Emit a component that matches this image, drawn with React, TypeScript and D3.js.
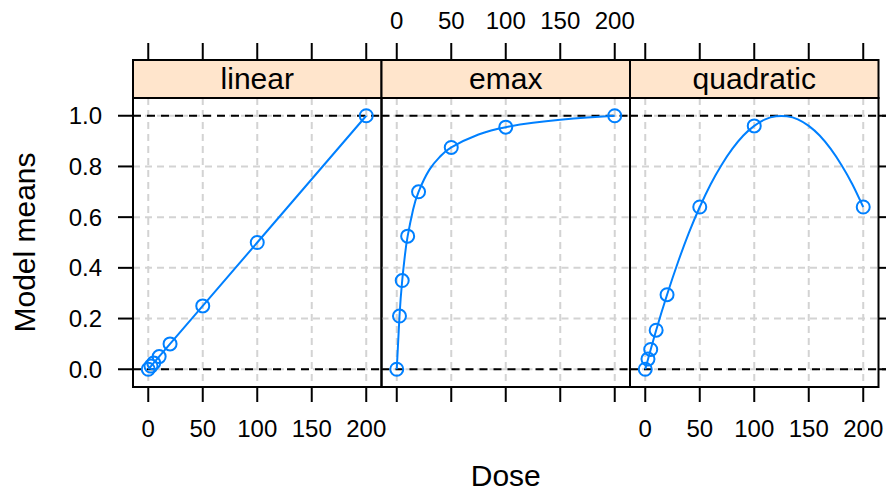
import * as d3 from 'd3'

// doses used for the points
const doses = [0, 2.5, 5, 10, 20, 50, 100, 200]

// model means at the doses
const linearMeans = [0, 0.0125, 0.025, 0.05, 0.1, 0.25, 0.5, 1.0]
const emaxMeans = [0, 0.21, 0.35, 0.525, 0.7, 0.875, 0.955, 1.0]
const quadMeans = [0, 0.04, 0.078, 0.154, 0.294, 0.64, 0.96, 0.64]

// fitted curves
const emaxCurveDose = [0, 2.5, 5, 7.5, 10, 15, 20, 30, 40, 50, 75, 100, 125, 150, 175, 200]
const emaxCurve = [0, 0.21, 0.35, 0.45, 0.525, 0.63, 0.7, 0.7875, 0.84, 0.875, 0.926, 0.955, 0.972, 0.984, 0.993, 1.0]
const quadCurveDose = [0, 10, 20, 30, 40, 50, 60, 70, 80, 90, 100, 110, 120, 130, 140, 150, 160, 170, 180, 190, 200]
const quadCurve = [0, 0.154, 0.294, 0.422, 0.538, 0.64, 0.73, 0.806, 0.87, 0.922, 0.96, 0.986, 0.998, 0.998, 0.986, 0.96, 0.922, 0.87, 0.806, 0.73, 0.64]

const panelNames = ['linear', 'emax', 'quadratic']
const xTicks = [0, 50, 100, 150, 200]
const yTicks = [0, 0.2, 0.4, 0.6, 0.8, 1.0]

const panels = [
  { name: panelNames[0], means: linearMeans, cx: doses, cy: linearMeans },
  { name: panelNames[1], means: emaxMeans, cx: emaxCurveDose, cy: emaxCurve },
  { name: panelNames[2], means: quadMeans, cx: quadCurveDose, cy: quadCurve },
]

const W = 886
const H = 493
const left = 133
const panelW = 248.5
const top = 98
const bottom = 387
const stripTop = 60
const tick = 15
const font = '"Liberation Sans", Arial, Helvetica, sans-serif'
const blue = '#0080ff'

export default function App() {
  const y = d3.scaleLinear().domain([-0.07, 1.07]).range([bottom, top])

  return (
    <svg width={W} height={H} style={{ position: 'absolute', left: 0, top: 0 }} fontFamily={font}>
      <rect width={W} height={H} fill="white" />
      {panels.map((p, i) => {
        const x0 = left + i * panelW
        const x = d3.scaleLinear().domain([-14, 214]).range([x0, x0 + panelW])
        const line = d3
          .line<number>()
          .x((_, k) => x(p.cx[k]))
          .y(d => y(d))
          .curve(d3.curveNatural)
        const lastPanel = i === panels.length - 1
        return (
          <g key={p.name}>
            <defs>
              <clipPath id={`clip${i}`}>
                <rect x={x0} y={top} width={panelW} height={bottom - top} />
              </clipPath>
            </defs>
            {/* grid */}
            {xTicks.map(t => (
              <line key={'gx' + t} x1={x(t)} x2={x(t)} y1={top} y2={bottom} stroke="#d3d3d3" strokeWidth={2} strokeDasharray="7,5" />
            ))}
            {yTicks.map(t => (
              <line key={'gy' + t} x1={x0} x2={x0 + panelW} y1={y(t)} y2={y(t)} stroke="#d3d3d3" strokeWidth={2} strokeDasharray="7,5" />
            ))}
            {/* reference lines at 0 and 1 */}
            {[0, 1].map(t => (
              <line key={'r' + t} x1={x0} x2={lastPanel ? W : x0 + panelW} y1={y(t)} y2={y(t)} stroke="black" strokeWidth={2} strokeDasharray="8,6" />
            ))}
            <g clipPath={`url(#clip${i})`}>
              <path d={line(p.cy) || ''} fill="none" stroke={blue} strokeWidth={2} />
              {p.means.map((m, k) => (
                <circle key={k} cx={x(doses[k])} cy={y(m)} r={6.5} fill="none" stroke={blue} strokeWidth={2} />
              ))}
            </g>
            {/* panel border */}
            <rect x={x0} y={top} width={panelW} height={bottom - top} fill="none" stroke="black" strokeWidth={2} />
            {/* strip */}
            <rect x={x0} y={stripTop} width={panelW} height={top - stripTop} fill="#ffe5cc" stroke="black" strokeWidth={2} />
            <text x={x0 + panelW / 2} y={top - 9} textAnchor="middle" fontSize={30}>
              {p.name}
            </text>
            {/* x ticks top and bottom */}
            {xTicks.map(t => (
              <g key={'t' + t}>
                <line x1={x(t)} x2={x(t)} y1={bottom} y2={bottom + tick} stroke="black" strokeWidth={2} />
                <line x1={x(t)} x2={x(t)} y1={stripTop} y2={stripTop - tick - 2} stroke="black" strokeWidth={2} />
                {i !== 1 && (
                  <text x={x(t)} y={437} textAnchor="middle" fontSize={24}>
                    {t}
                  </text>
                )}
                {i === 1 && (
                  <text x={x(t)} y={29} textAnchor="middle" fontSize={24}>
                    {t}
                  </text>
                )}
              </g>
            ))}
          </g>
        )
      })}
      {/* y axis */}
      {yTicks.map(t => (
        <g key={'y' + t}>
          <line x1={left - tick} x2={left} y1={y(t)} y2={y(t)} stroke="black" strokeWidth={2} />
          <line x1={left + 3 * panelW} x2={left + 3 * panelW + tick} y1={y(t)} y2={y(t)} stroke="black" strokeWidth={2} />
          <text x={102} y={y(t)} dy="0.36em" textAnchor="end" fontSize={24}>
            {t.toFixed(1)}
          </text>
        </g>
      ))}
      <text transform={`translate(35,${(top + bottom) / 2}) rotate(-90)`} textAnchor="middle" fontSize={30}>
        Model means
      </text>
      <text x={left + (3 * panelW) / 2} y={486} textAnchor="middle" fontSize={30}>
        Dose
      </text>
    </svg>
  )
}
